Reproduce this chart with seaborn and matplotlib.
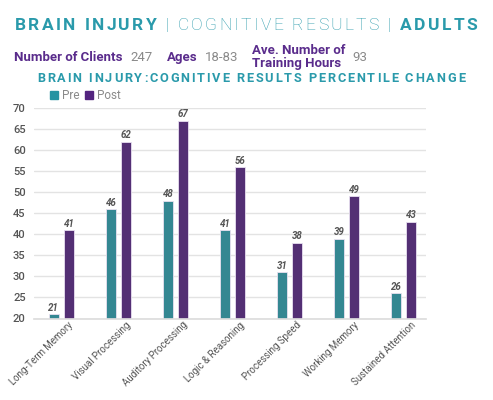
import numpy as np
import pandas as pd
import seaborn as sns
import matplotlib.pyplot as plt

# chart data
categories = ['Long-Term Memory', 'Visual Processing', 'Auditory Processing',
              'Logic & Reasoning', 'Processing Speed', 'Working Memory',
              'Sustained Attention']
pre = [21, 46, 48, 41, 31, 39, 26]
post = [41, 62, 67, 56, 38, 49, 43]
series = ['Pre', 'Post']
yticks = [20, 25, 30, 35, 40, 45, 50, 55, 60, 65, 70]

TEAL = '#2493a2'
PURPLE = '#53247f'
TITLE = '#2a9aab'
LABEL_PURPLE = '#5a2c8c'
GRAY = '#8a8a8a'

sns.set_theme(style='white')
plt.rcParams['font.family'] = ['Roboto', 'DejaVu Sans']

fig = plt.figure(figsize=(4.93, 4.0), dpi=100)
W, H = 493, 400


def tracked(x0, x1, y, parts, size):
    """Spread text pieces glyph by glyph so they run from x0 to x1 (pixels)."""
    r = fig.canvas.get_renderer()

    def width(s, kw):
        t = fig.text(0, 0, s, fontsize=size, **kw)
        w = t.get_window_extent(r).width
        t.remove()
        return w

    glyphs = []
    for s, kw in parts:
        base = width('II', kw)
        for ch in s:
            adv = width('I' + ch + 'I', kw) - base
            t = None
            if ch != ' ':
                t = fig.text(0, 1 - y / H, ch, fontsize=size, va='baseline', **kw)
            glyphs.append((t, adv))
    natural = sum(w for _, w in glyphs)
    track = (x1 - x0 - natural) / (len(glyphs) - 1)
    x = x0
    for t, w in glyphs:
        if t is not None:
            t.set_x(x / W)
        x += w + track


# headline
tracked(15, 477, 30, [('BRAIN INJURY', dict(color=TITLE, fontweight='bold')),
                      (' | COGNITIVE RESULTS | ', dict(color=TITLE, fontweight='light')),
                      ('ADULTS', dict(color=TITLE, fontweight='bold'))], 12.5)

# stats line
fs = 9.5
fig.text(14 / W, 1 - 61 / H, 'Number of Clients', color=LABEL_PURPLE, fontweight='bold', fontsize=fs)
fig.text(130 / W, 1 - 61 / H, '247', color=GRAY, fontsize=fs)
fig.text(167 / W, 1 - 61 / H, 'Ages', color=LABEL_PURPLE, fontweight='bold', fontsize=fs)
fig.text(205 / W, 1 - 61 / H, '18-83', color=GRAY, fontsize=fs)
fig.text(252 / W, 1 - 54 / H, 'Ave. Number of', color=LABEL_PURPLE, fontweight='bold', fontsize=fs)
fig.text(252 / W, 1 - 66.5 / H, 'Training Hours', color=LABEL_PURPLE, fontweight='bold', fontsize=fs)
fig.text(352 / W, 1 - 61 / H, '93', color=GRAY, fontsize=fs)

# chart title
tracked(37, 465, 82, [('BRAIN INJURY:COGNITIVE RESULTS PERCENTILE CHANGE',
                       dict(color=TITLE, fontweight='bold'))], 9.2)

df = pd.DataFrame({
    'category': categories * 2,
    'series': [series[0]] * len(categories) + [series[1]] * len(categories),
    'value': pre + post,
})

ax = fig.add_axes([34 / W, 1 - 318.5 / H, (426 - 34) / W, (318.5 - 108) / H])
sns.barplot(data=df, x='category', y='value', hue='series', order=categories,
            hue_order=series, palette=[TEAL, PURPLE], width=0.53, gap=0.33,
            edgecolor='#e8e0f0', linewidth=0.6, ax=ax, legend=False)

for cont in ax.containers:
    ax.bar_label(cont, fmt='%d', padding=1, fontsize=7, fontstyle='italic',
                 fontweight='bold', color='#555555')

ax.set_ylim(20, 70)
ax.set_xlim(-0.48, 6.39)
ax.set_yticks(yticks)
ax.yaxis.grid(True, color='#e3e3e3', linewidth=1)
ax.set_axisbelow(True)
for side in ['top', 'right', 'left']:
    ax.spines[side].set_visible(False)
ax.spines['bottom'].set_color('#dddddd')
ax.set_xlabel('')
ax.set_ylabel('')
ax.tick_params(axis='y', labelsize=8, colors='#555555', length=0, pad=6)
plt.setp(ax.get_yticklabels(), fontweight='medium')

# category labels sit a little right of the group centre, as in the reference
ax.set_xticks(np.arange(len(categories)) + 0.12, categories)
ax.tick_params(axis='x', labelsize=7, colors='#555555', length=0, pad=1,
               labelrotation=45)
plt.setp(ax.get_xticklabels(), ha='right', rotation_mode='anchor')

# legend drawn as markers in figure space
fig.patches.append(plt.Rectangle((50 / W, 1 - 99 / H), 8 / W, 8 / H, color=TEAL, transform=fig.transFigure))
fig.text(62 / W, 1 - 99 / H, 'Pre', color=GRAY, fontsize=8.5)
fig.patches.append(plt.Rectangle((85 / W, 1 - 99 / H), 8 / W, 8 / H, color=PURPLE, transform=fig.transFigure))
fig.text(97 / W, 1 - 99 / H, 'Post', color=GRAY, fontsize=8.5)

fig.savefig('out.png', dpi=100)
